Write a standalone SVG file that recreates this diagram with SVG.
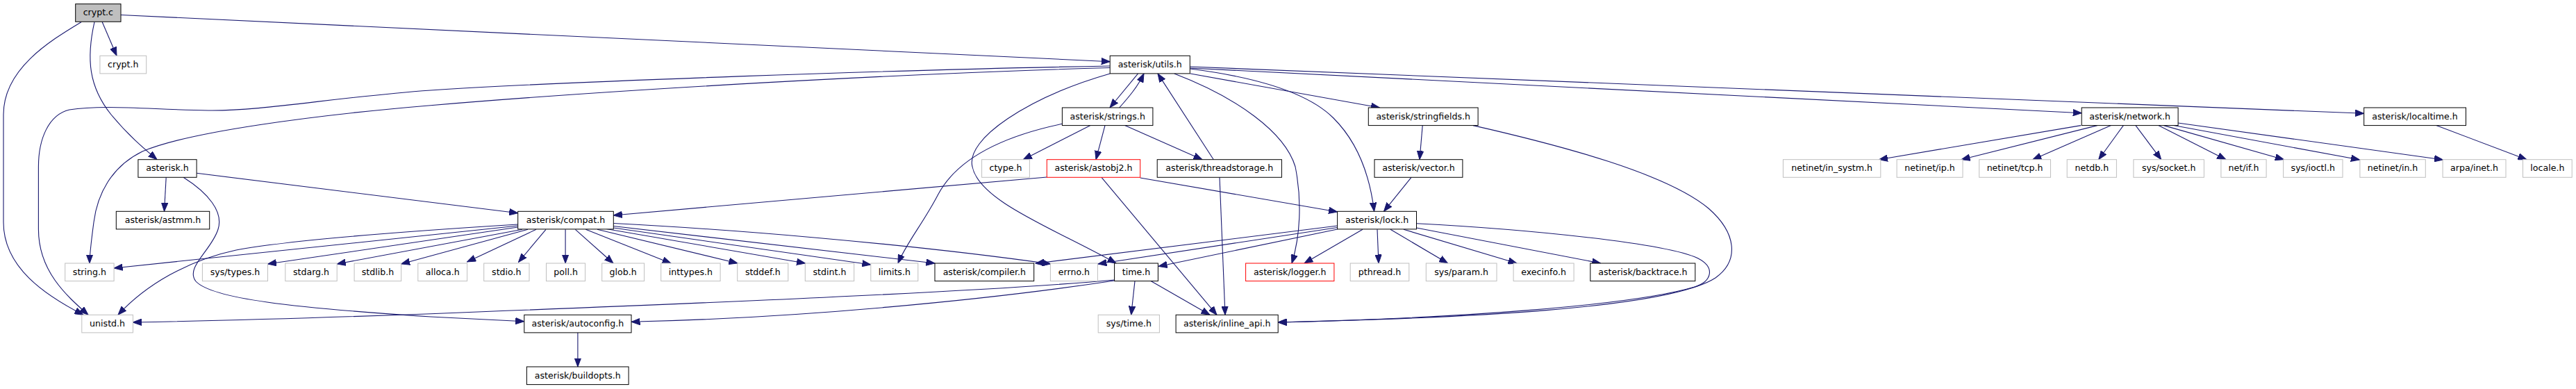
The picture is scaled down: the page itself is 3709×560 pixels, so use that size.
<svg xmlns="http://www.w3.org/2000/svg" width="3709" height="560" viewBox="0 0 3709 560">
<style>
.nd rect{fill:#fff;stroke:#000;stroke-width:1}
.nd.g rect{stroke:#bfbfbf}
.nd.r rect{stroke:#ff0000}
.nd.c rect{fill:#bfbfbf}
.nd text{font-family:"DejaVu Sans","Liberation Sans",sans-serif;font-size:12.6px;text-anchor:middle;fill:#000}
#edges path{fill:none;stroke:#191970;stroke-width:1.1;marker-end:url(#ah)}
</style>
<defs>
<marker id="ah" viewBox="0 0 13 10" refX="12.5" refY="5" markerWidth="13" markerHeight="10" markerUnits="userSpaceOnUse" orient="auto">
<path d="M0,0.3L12.5,5L0,9.7z" fill="#191970" stroke="#191970" stroke-width="1"/>
</marker>
</defs>
<rect width="3709" height="560" fill="#fff"/>
<g id="edges">
<path d="M147,31.3 L168,80.3"/>
<path d="M174,21.5 L1598.2,88.7"/>
<path d="M136,31.7 C124,85 128,125 160,165 C185,195 205,212 226,229.7"/>
<path d="M117,31.7 C70,60 5,100 5,165 L5,320 C5,385 65,425 120,453.3"/>
<path d="M239.2,255.3 L236.5,304.3"/>
<path d="M283.1,249.3 L745.7,306.7"/>
<path d="M264,255.3 C300,278 322,305 314,330 C305,360 266,385 282,405 C305,430 420,443 620,456 L754.8,462.7"/>
<path d="M1604.6,403 C1420,420 1000,437 620,451.7 C450,458 300,462 191.4,464"/>
<path d="M1604.6,404 C1420,432 1150,458 909,463.3"/>
<path d="M831.9,478.9 L831.9,528"/>
<path d="M745.7,323 C600,332 420,345 340,360 C270,375 210,410 170,453.3"/>
<path d="M745.7,325 L164.1,386"/>
<path d="M745.7,327 L385.5,380"/>
<path d="M752,330.3 L485.2,380"/>
<path d="M760,330.3 L577.7,380"/>
<path d="M772,330.3 L672.6,377"/>
<path d="M786,330.3 L746.5,377.5"/>
<path d="M814.1,330.3 L814.1,379"/>
<path d="M828.4,330.3 L883,379"/>
<path d="M843.4,330.3 L966,379"/>
<path d="M860,330.3 L1062,379"/>
<path d="M873,329.5 L1159.5,379"/>
<path d="M883.3,328 L1253.8,381"/>
<path d="M883.3,325.5 L1346,379"/>
<path d="M883.3,321.5 C1050,330 1300,350 1512.8,380"/>
<path d="M1507.3,255 L883.3,310"/>
<path d="M1641.7,256 L1925.6,305"/>
<path d="M1586,255.3 L1752,453.3"/>
<path d="M1756,255.3 L1764,453.3"/>
<path d="M1747.3,229.7 L1667,105.9"/>
<path d="M1638.6,105.9 L1598,155"/>
<path d="M1611.7,155 C1625,140 1638,125 1647,105.9"/>
<path d="M1570,180.6 L1473.3,229.7"/>
<path d="M1591,180.6 L1578,229.7"/>
<path d="M1619.6,180.6 L1731,229.7"/>
<path d="M1529.4,178.3 C1450,195 1380,225 1350.7,280 C1330,320 1305,350 1293,379"/>
<path d="M1598.2,106 C1480,140 1390,200 1400,240 C1410,290 1520,330 1607,379"/>
<path d="M1598.2,95 C1300,100 800,118 620,130 C480,140 380,160 300,159 C220,158 150,150 100,158 C70,165 55.4,200 55.4,240 L55.4,330 C55.4,390 95,425 127,453.3"/>
<path d="M1598.2,97.5 C1300,106 900,128 620,151.7 C450,166 270,190 205,218 C160,240 140,280 135,320 C131,350 129,365 129,379"/>
<path d="M1714,106 L1986.5,155"/>
<path d="M1713.3,99 C1800,110 1880,130 1920,170 C1955,205 1972,250 1978.6,304.3"/>
<path d="M1690.8,106 C1780,140 1850,190 1865,240 C1875,290 1872,340 1860,379"/>
<path d="M1713.3,96 L3403.7,163.3"/>
<path d="M1713.3,98 L2997.2,162.7"/>
<path d="M2048.2,180.6 L2044,229.7"/>
<path d="M2121,180.6 C2250,210 2400,250 2460,300 C2500,335 2505,375 2470,400 C2400,445 2100,458 1840.2,464"/>
<path d="M2039.5,321.7 C2200,330 2400,350 2445,372 C2470,385 2465,405 2440,413 C2350,440 2100,458 1840.2,464"/>
<path d="M1962,330.3 L1878,379"/>
<path d="M1983,330.3 L1985,379"/>
<path d="M2002,330.3 L2084.6,379"/>
<path d="M2021,330.3 L2184,379"/>
<path d="M2039.5,328 L2304.8,379"/>
<path d="M1925.6,325 L1491,379.3"/>
<path d="M1925.6,327.5 L1580.8,380"/>
<path d="M1925.6,330 L1668,383.5"/>
<path d="M2032,255.3 L1992.5,304.3"/>
<path d="M1634,404.6 L1628.7,453.3"/>
<path d="M1657,404.6 L1742,453.3"/>
<path d="M3507.8,180.6 L3638,229.7"/>
<path d="M2996,180.6 L2705.4,229.7"/>
<path d="M3019.7,180.6 L2824,229.7"/>
<path d="M3039.5,180.6 L2926.8,229.7"/>
<path d="M3057.3,180.6 L3021.7,229.7"/>
<path d="M3075,180.6 L3111.7,229.7"/>
<path d="M3107.8,180.6 L3204.9,229.7"/>
<path d="M3115.5,180.6 L3288.4,229.7"/>
<path d="M3127,180 L3397.5,230"/>
<path d="M3136,177 L3517.5,230"/>
</g>
<g id="crypt_c" class="nd c"><rect x="108.7" y="5.7" width="65.3" height="25.6"/><text x="141.35" y="22.2">crypt.c</text></g>
<g id="crypt_h" class="nd g"><rect x="143.9" y="80.3" width="66.8" height="25.6"/><text x="177.3" y="96.8">crypt.h</text></g>
<g id="utils_h" class="nd"><rect x="1598.2" y="80.3" width="115.1" height="25.6"/><text x="1655.75" y="96.8">asterisk/utils.h</text></g>
<g id="strings_h" class="nd"><rect x="1529.4" y="155" width="130.5" height="25.6"/><text x="1594.65" y="171.5">asterisk/strings.h</text></g>
<g id="stringfields_h" class="nd"><rect x="1970.3" y="155" width="157.8" height="25.6"/><text x="2049.2" y="171.5">asterisk/stringfields.h</text></g>
<g id="network_h" class="nd"><rect x="2997.2" y="155" width="138.9" height="25.6"/><text x="3066.65" y="171.5">asterisk/network.h</text></g>
<g id="localtime_h" class="nd"><rect x="3403.7" y="155" width="146.8" height="25.6"/><text x="3477.1" y="171.5">asterisk/localtime.h</text></g>
<g id="asterisk_h" class="nd"><rect x="198.9" y="229.7" width="84.2" height="25.6"/><text x="241" y="246.2">asterisk.h</text></g>
<g id="ctype_h" class="nd g"><rect x="1413.6" y="229.7" width="68.8" height="25.6"/><text x="1448" y="246.2">ctype.h</text></g>
<g id="astobj2_h" class="nd r"><rect x="1507.3" y="229.7" width="134.4" height="25.6"/><text x="1574.5" y="246.2">asterisk/astobj2.h</text></g>
<g id="threadstorage_h" class="nd"><rect x="1666.2" y="229.7" width="179.2" height="25.6"/><text x="1755.8" y="246.2">asterisk/threadstorage.h</text></g>
<g id="vector_h" class="nd"><rect x="1979" y="229.7" width="126.9" height="25.6"/><text x="2042.45" y="246.2">asterisk/vector.h</text></g>
<g id="in_systm_h" class="nd g"><rect x="2567.4" y="229.7" width="140.4" height="25.6"/><text x="2637.6" y="246.2">netinet/in_systm.h</text></g>
<g id="ip_h" class="nd g"><rect x="2731.1" y="229.7" width="94.9" height="25.6"/><text x="2778.55" y="246.2">netinet/ip.h</text></g>
<g id="tcp_h" class="nd g"><rect x="2849.7" y="229.7" width="102.8" height="25.6"/><text x="2901.1" y="246.2">netinet/tcp.h</text></g>
<g id="netdb_h" class="nd g"><rect x="2976.2" y="229.7" width="71.2" height="25.6"/><text x="3011.8" y="246.2">netdb.h</text></g>
<g id="socket_h" class="nd g"><rect x="3071.9" y="229.7" width="101.5" height="25.6"/><text x="3122.65" y="246.2">sys/socket.h</text></g>
<g id="net_if_h" class="nd g"><rect x="3197.9" y="229.7" width="65.2" height="25.6"/><text x="3230.5" y="246.2">net/if.h</text></g>
<g id="ioctl_h" class="nd g"><rect x="3287.6" y="229.7" width="85.4" height="25.6"/><text x="3330.3" y="246.2">sys/ioctl.h</text></g>
<g id="netinet_in_h" class="nd g"><rect x="3397.9" y="229.7" width="94.4" height="25.6"/><text x="3445.1" y="246.2">netinet/in.h</text></g>
<g id="arpa_inet_h" class="nd g"><rect x="3517.1" y="229.7" width="90.9" height="25.6"/><text x="3562.55" y="246.2">arpa/inet.h</text></g>
<g id="locale_h" class="nd g"><rect x="3632.5" y="229.7" width="70.7" height="25.6"/><text x="3667.85" y="246.2">locale.h</text></g>
<g id="astmm_h" class="nd"><rect x="167.3" y="304.3" width="134.4" height="25.6"/><text x="234.5" y="320.8">asterisk/astmm.h</text></g>
<g id="compat_h" class="nd"><rect x="745.7" y="304.3" width="137.6" height="25.6"/><text x="814.5" y="320.8">asterisk/compat.h</text></g>
<g id="lock_h" class="nd"><rect x="1925.6" y="304.3" width="113.9" height="25.6"/><text x="1982.55" y="320.8">asterisk/lock.h</text></g>
<g id="string_h" class="nd g"><rect x="93.7" y="379" width="70.4" height="25.6"/><text x="128.9" y="395.5">string.h</text></g>
<g id="sys_types_h" class="nd g"><rect x="291.4" y="379" width="94.1" height="25.6"/><text x="338.45" y="395.5">sys/types.h</text></g>
<g id="stdarg_h" class="nd g"><rect x="410.8" y="379" width="74.4" height="25.6"/><text x="448" y="395.5">stdarg.h</text></g>
<g id="stdlib_h" class="nd g"><rect x="510.1" y="379" width="67.6" height="25.6"/><text x="543.9" y="395.5">stdlib.h</text></g>
<g id="alloca_h" class="nd g"><rect x="601.8" y="379" width="70.8" height="25.6"/><text x="637.2" y="395.5">alloca.h</text></g>
<g id="stdio_h" class="nd g"><rect x="696.7" y="379" width="65.3" height="25.6"/><text x="729.35" y="395.5">stdio.h</text></g>
<g id="poll_h" class="nd g"><rect x="786.5" y="379" width="56.1" height="25.6"/><text x="814.55" y="395.5">poll.h</text></g>
<g id="glob_h" class="nd g"><rect x="866.7" y="379" width="60.9" height="25.6"/><text x="897.15" y="395.5">glob.h</text></g>
<g id="inttypes_h" class="nd g"><rect x="951.7" y="379" width="85.4" height="25.6"/><text x="994.4" y="395.5">inttypes.h</text></g>
<g id="stddef_h" class="nd g"><rect x="1061.7" y="379" width="73.1" height="25.6"/><text x="1098.25" y="395.5">stddef.h</text></g>
<g id="stdint_h" class="nd g"><rect x="1159.3" y="379" width="70.4" height="25.6"/><text x="1194.5" y="395.5">stdint.h</text></g>
<g id="limits_h" class="nd g"><rect x="1253.8" y="379" width="68" height="25.6"/><text x="1287.8" y="395.5">limits.h</text></g>
<g id="compiler_h" class="nd"><rect x="1346" y="379" width="142.7" height="25.6"/><text x="1417.35" y="395.5">asterisk/compiler.h</text></g>
<g id="errno_h" class="nd g"><rect x="1512.4" y="379" width="68" height="25.6"/><text x="1546.4" y="395.5">errno.h</text></g>
<g id="time_h" class="nd"><rect x="1604.6" y="379" width="62.8" height="25.6"/><text x="1636" y="395.5">time.h</text></g>
<g id="logger_h" class="nd r"><rect x="1793.6" y="379" width="127.3" height="25.6"/><text x="1857.25" y="395.5">asterisk/logger.h</text></g>
<g id="pthread_h" class="nd g"><rect x="1944.2" y="379" width="84.6" height="25.6"/><text x="1986.5" y="395.5">pthread.h</text></g>
<g id="sys_param_h" class="nd g"><rect x="2053.3" y="379" width="101.7" height="25.6"/><text x="2104.15" y="395.5">sys/param.h</text></g>
<g id="execinfo_h" class="nd g"><rect x="2179.1" y="379" width="87" height="25.6"/><text x="2222.6" y="395.5">execinfo.h</text></g>
<g id="backtrace_h" class="nd"><rect x="2289.8" y="379" width="151" height="25.6"/><text x="2365.3" y="395.5">asterisk/backtrace.h</text></g>
<g id="unistd_h" class="nd g"><rect x="117.8" y="453.3" width="73.6" height="25.6"/><text x="154.6" y="469.8">unistd.h</text></g>
<g id="autoconfig_h" class="nd"><rect x="754.8" y="453.3" width="154.2" height="25.6"/><text x="831.9" y="469.8">asterisk/autoconfig.h</text></g>
<g id="sys_time_h" class="nd g"><rect x="1581.2" y="453.3" width="88.2" height="25.6"/><text x="1625.3" y="469.8">sys/time.h</text></g>
<g id="inline_api_h" class="nd"><rect x="1693.1" y="453.3" width="147.1" height="25.6"/><text x="1766.65" y="469.8">asterisk/inline_api.h</text></g>
<g id="buildopts_h" class="nd"><rect x="758.4" y="528" width="146.7" height="25.6"/><text x="831.75" y="544.5">asterisk/buildopts.h</text></g>
</svg>
